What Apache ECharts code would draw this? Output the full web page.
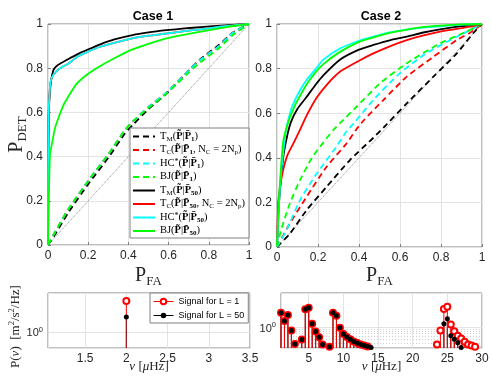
<!DOCTYPE html>
<html lang="en">
<head>
<meta charset="UTF-8">
<title>ROC curves</title>
<script src="https://cdn.jsdelivr.net/npm/echarts@6/dist/echarts.min.js"></script>
<style>html,body{margin:0;padding:0;background:#fff;}</style>
</head>
<body>
<div id="box" style="width:491px;height:382px;"></div>
<script>
// ---- Case 1 ROC curves (x = P_FA, y = P_DET) ----
var c1TmDashX = [0, 0.03, 0.1, 0.2, 0.3, 0.383, 0.424, 0.5, 0.59, 0.7, 0.756, 0.85, 0.92, 1];
var c1TmDashY = [0, 0.04, 0.145, 0.275, 0.395, 0.505, 0.545, 0.615, 0.685, 0.79, 0.84, 0.905, 0.962, 1];
var c1TcDashX = [0, 0.03, 0.1, 0.2, 0.3, 0.383, 0.424, 0.5, 0.59, 0.7, 0.756, 0.85, 0.92, 1];
var c1TcDashY = [0, 0.05, 0.16, 0.29, 0.41, 0.52, 0.56, 0.625, 0.69, 0.79, 0.837, 0.9, 0.96, 1];
var c1HcDashX = [0, 0.03, 0.1, 0.2, 0.3, 0.383, 0.424, 0.5, 0.59, 0.7, 0.756, 0.85, 0.92, 1];
var c1HcDashY = [0, 0.05, 0.16, 0.29, 0.41, 0.52, 0.56, 0.625, 0.69, 0.79, 0.837, 0.9, 0.96, 1];
var c1BjDashX = [0, 0.03, 0.1, 0.2, 0.3, 0.383, 0.424, 0.5, 0.59, 0.7, 0.756, 0.85, 0.92, 1];
var c1BjDashY = [0, 0.05, 0.16, 0.29, 0.41, 0.52, 0.56, 0.62, 0.685, 0.78, 0.825, 0.89, 0.95, 1];
var c1TmSolidX = [0, 0.003, 0.01, 0.026, 0.05, 0.093, 0.15, 0.2, 0.26, 0.33, 0.42, 0.5, 0.59, 0.68, 0.76, 0.88, 1];
var c1TmSolidY = [0, 0.55, 0.7, 0.79, 0.815, 0.837, 0.865, 0.885, 0.908, 0.93, 0.95, 0.962, 0.972, 0.98, 0.986, 0.994, 1];
var c1TcSolidX = [0, 0.002, 0.01, 0.02, 0.04, 0.07, 0.1, 0.143, 0.2, 0.26, 0.33, 0.42, 0.5, 0.59, 0.68, 0.76, 0.88, 1];
var c1TcSolidY = [0, 0.55, 0.72, 0.76, 0.785, 0.805, 0.82, 0.85, 0.875, 0.897, 0.915, 0.935, 0.947, 0.957, 0.968, 0.976, 0.99, 1];
var c1HcSolidX = [0, 0.002, 0.01, 0.02, 0.04, 0.07, 0.1, 0.143, 0.2, 0.26, 0.33, 0.42, 0.5, 0.59, 0.68, 0.76, 0.88, 1];
var c1HcSolidY = [0, 0.55, 0.72, 0.76, 0.785, 0.805, 0.82, 0.85, 0.875, 0.897, 0.915, 0.935, 0.947, 0.957, 0.968, 0.976, 0.99, 1];
var c1BjSolidX = [0, 0.005, 0.01, 0.02, 0.035, 0.05, 0.075, 0.1, 0.143, 0.2, 0.26, 0.33, 0.42, 0.5, 0.59, 0.68, 0.76, 0.88, 1];
var c1BjSolidY = [0, 0.25, 0.41, 0.46, 0.53, 0.57, 0.63, 0.67, 0.73, 0.775, 0.81, 0.845, 0.885, 0.91, 0.935, 0.952, 0.965, 0.985, 1];

// ---- Case 2 ROC curves ----
var c2TmDashX = [0, 0.063, 0.145, 0.242, 0.356, 0.47, 0.535, 0.633, 0.763, 0.877, 0.958, 1];
var c2TmDashY = [0, 0.06, 0.166, 0.27, 0.39, 0.49, 0.55, 0.644, 0.764, 0.868, 0.96, 1];
var c2TcDashX = [0, 0.063, 0.145, 0.242, 0.34, 0.389, 0.42, 0.52, 0.633, 0.763, 0.877, 0.94, 1];
var c2TcDashY = [0, 0.106, 0.226, 0.36, 0.465, 0.53, 0.565, 0.66, 0.764, 0.853, 0.928, 0.96, 1];
var c2HcDashX = [0, 0.047, 0.112, 0.194, 0.29, 0.34, 0.38, 0.47, 0.6, 0.73, 0.877, 1];
var c2HcDashY = [0, 0.076, 0.21, 0.33, 0.45, 0.52, 0.56, 0.66, 0.78, 0.87, 0.943, 1];
var c2BjDashX = [0, 0.02, 0.063, 0.112, 0.169, 0.21, 0.275, 0.307, 0.389, 0.502, 0.633, 0.795, 0.925, 1];
var c2BjDashY = [0, 0.076, 0.196, 0.3, 0.398, 0.45, 0.525, 0.555, 0.63, 0.734, 0.824, 0.913, 0.966, 1];
var c2TmSolidX = [0, 0.01, 0.03, 0.05, 0.068, 0.1, 0.145, 0.19, 0.226, 0.307, 0.4, 0.47, 0.55, 0.633, 0.72, 0.795, 0.9, 1];
var c2TmSolidY = [0, 0.2, 0.4, 0.5, 0.56, 0.62, 0.674, 0.73, 0.77, 0.84, 0.885, 0.906, 0.927, 0.943, 0.963, 0.976, 0.99, 1];
var c2TcSolidX = [0, 0.006, 0.015, 0.03, 0.05, 0.08, 0.112, 0.145, 0.194, 0.25, 0.307, 0.4, 0.47, 0.55, 0.633, 0.72, 0.795, 0.9, 0.958, 1];
var c2TcSolidY = [0, 0.196, 0.27, 0.345, 0.41, 0.465, 0.525, 0.59, 0.67, 0.735, 0.786, 0.835, 0.868, 0.9, 0.928, 0.95, 0.966, 0.982, 0.99, 1];
var c2HcSolidX = [0, 0.01, 0.02, 0.035, 0.047, 0.07, 0.088, 0.12, 0.145, 0.19, 0.226, 0.307, 0.4, 0.47, 0.55, 0.633, 0.72, 0.795, 0.9, 1];
var c2HcSolidY = [0, 0.2, 0.33, 0.46, 0.54, 0.62, 0.66, 0.715, 0.75, 0.8, 0.84, 0.89, 0.925, 0.943, 0.962, 0.975, 0.985, 0.99, 0.997, 1];
var c2BjSolidX = [0, 0.01, 0.03, 0.055, 0.09, 0.12, 0.145, 0.19, 0.226, 0.307, 0.4, 0.47, 0.55, 0.633, 0.72, 0.8, 0.9, 1];
var c2BjSolidY = [0, 0.22, 0.47, 0.56, 0.64, 0.69, 0.73, 0.785, 0.82, 0.875, 0.92, 0.94, 0.96, 0.975, 0.987, 0.993, 0.998, 1];

var diagX = [0, 1];
var diagY = [0, 1];

// ---- signal spectra, P(nu) on a log scale ----
var sigLeftX = [2];
var sigLeftL1 = [5.96];
var sigLeftL50 = [2.37];

var sigRightX1 = [1, 1.5, 2, 2.5, 3, 4, 4.5, 5, 5.5, 6, 6.5, 7, 8, 8.5, 9, 9.5, 10, 10.5, 11, 11.5, 12, 12.5, 13, 13.5,
  23.5, 24, 24.5, 25, 25.5, 26, 26.5, 27, 27.5, 28, 28.5, 29];
var sigRightL1 = [2.32, 1.44, 2.03, 0.84, 0.39, 0.5, 2.82, 3.09, 1.23, 0.79, 0.57, 0.38, 0.33, 2.32, 1.95, 0.98, 0.69, 0.58, 0.51, 0.45, 0.41, 0.376, 0.355, 0.335,
  0.376, 0.84, 2.87, 3.27, 1.19, 0.81, 0.62, 0.53, 0.44, 0.38, 0.355, 0.33];
var sigRightX50 = [1, 1.5, 2, 2.5, 3, 4, 4.5, 5, 5.5, 6, 6.5, 7, 8, 8.5, 9, 9.5, 10, 10.5, 11, 11.5, 12, 12.5, 13, 13.5, 14,
  24.5, 25, 25.5, 26, 26.5, 27];
var sigRightL50 = [2.32, 1.44, 2.03, 0.84, 0.39, 0.5, 2.82, 3.09, 1.23, 0.79, 0.57, 0.38, 0.33, 2.32, 1.95, 0.98, 0.69, 0.58, 0.51, 0.45, 0.41, 0.376, 0.355, 0.335, 0.32,
  1.23, 1.64, 0.62, 0.51, 0.42, 0.32];

// minor log grid lines visible below 10^0 in the right spectrum
var rightMinorTicks = [0.4, 0.5, 0.6, 0.7, 0.8, 0.9];

var leftLogMin = 0.398, leftLogMax = 9.44;
var rightLogMin = 0.309, rightLogMax = 7.2;

var sans = 'Liberation Sans';
var serif = 'Liberation Serif';
var ink = '#262626';
var gridGray = '#e3e3e3';
var boxGray = '#808080';

function zip(xs, ys) {
  return xs.map(function (x, i) { return [x, ys[i]]; });
}

// rich text styles for LaTeX-like labels
var richLegend = {
  n: { fontFamily: serif, fontSize: 10.5, color: '#000', lineHeight: 12, verticalAlign: 'top' },
  b: { fontFamily: serif, fontSize: 10.5, fontWeight: 'bold', color: '#000', lineHeight: 12, verticalAlign: 'top' },
  s: { fontFamily: serif, fontSize: 7, color: '#000', lineHeight: 8, padding: [6.5, 0, 0, 0], verticalAlign: 'bottom' },
  bs: { fontFamily: serif, fontSize: 7, fontWeight: 'bold', color: '#000', lineHeight: 8, padding: [6.5, 0, 0, 0], verticalAlign: 'bottom' },
  u: { fontFamily: serif, fontSize: 8, color: '#000', lineHeight: 8, verticalAlign: 'top' }
};
var richBig = {
  p: { fontFamily: serif, fontSize: 20, color: ink, lineHeight: 22, verticalAlign: 'top' },
  s: { fontFamily: serif, fontSize: 13, color: ink, lineHeight: 14, padding: [10, 0, 0, 0], verticalAlign: 'bottom' }
};
var richUnit = {
  n: { fontFamily: serif, fontSize: 13, color: ink, lineHeight: 15, verticalAlign: 'bottom' },
  i: { fontFamily: serif, fontSize: 13, fontStyle: 'italic', color: ink, lineHeight: 15, verticalAlign: 'bottom' },
  u: { fontFamily: serif, fontSize: 8.5, color: ink, lineHeight: 9, verticalAlign: 'top' }
};
var richTen = {
  a: { fontFamily: sans, fontSize: 11, color: ink, lineHeight: 13, verticalAlign: 'bottom' },
  u: { fontFamily: sans, fontSize: 7.5, color: ink, lineHeight: 8, verticalAlign: 'top' }
};

var legendText = {
  TM1: '{n|T}{s|M}{n|(}{b|P\u0303}{n||}{b|P\u0304}{bs|1}{n|)}',
  TC1: '{n|T}{s|C}{n|(}{b|P\u0303}{n||}{b|P\u0304}{bs|1}{n|, N}{s|C}{n| = 2N}{s|p}{n|)}',
  HC1: '{n|HC}{u|*}{n|(}{b|P\u0303}{n||}{b|P\u0304}{bs|1}{n|)}',
  BJ1: '{n|BJ(}{b|P\u0303}{n||}{b|P\u0304}{bs|1}{n|)}',
  TM50: '{n|T}{s|M}{n|(}{b|P\u0303}{n||}{b|P\u0304}{bs|50}{n|)}',
  TC50: '{n|T}{s|C}{n|(}{b|P\u0303}{n||}{b|P\u0304}{bs|50}{n|, N}{s|C}{n| = 2N}{s|p}{n|)}',
  HC50: '{n|HC}{u|*}{n|(}{b|P\u0303}{n||}{b|P\u0304}{bs|50}{n|)}',
  BJ50: '{n|BJ(}{b|P\u0303}{n||}{b|P\u0304}{bs|50}{n|)}'
};

function rocLine(name, idx, xs, ys, color, dashed) {
  return {
    type: 'line', name: name, xAxisIndex: idx, yAxisIndex: idx,
    data: zip(xs, ys), symbol: 'none', smooth: 0.2, silent: true,
    lineStyle: { color: color, width: 1.8, type: dashed ? [6, 4] : 'solid' },
    itemStyle: { color: color }, z: 3
  };
}

function stems(idx, xs, ys, color, base) {
  return {
    type: 'custom', xAxisIndex: idx, yAxisIndex: idx, silent: true, z: 3,
    data: zip(xs, ys),
    renderItem: function (params, api) {
      var top = api.coord([api.value(0), api.value(1)]);
      var bot = api.coord([api.value(0), base]);
      return { type: 'line', shape: { x1: top[0], y1: top[1], x2: bot[0], y2: bot[1] }, style: { stroke: color, lineWidth: 1 } };
    }
  };
}

function markers(name, idx, xs, ys, color, empty) {
  return {
    type: 'line', name: name, xAxisIndex: idx, yAxisIndex: idx, data: zip(xs, ys),
    symbol: empty ? 'emptyCircle' : 'circle', symbolSize: empty ? 6 : 5, showAllSymbol: true, silent: true,
    lineStyle: { width: 0, opacity: 0, color: color },
    itemStyle: { color: color, borderWidth: 1 }, z: 4
  };
}

function rocAxis(idx, isX) {
  var ax = {
    gridIndex: idx, type: 'value', min: 0, max: 1, interval: 0.2,
    axisLine: { show: false, onZero: false },
    axisTick: { show: true, inside: true, length: 3, lineStyle: { color: boxGray } },
    axisLabel: { color: ink, fontFamily: sans, fontSize: 12, margin: 5 },
    splitLine: { show: true, lineStyle: { color: gridGray, width: 1 } },
    nameMoveOverlap: false
  };
  if (isX) {
    ax.name = '{p|P}{s|FA}';
    ax.nameLocation = 'middle';
    ax.nameGap = idx === 0 ? 21 : 19;
    ax.nameTextStyle = { rich: richBig };
  } else if (idx === 0) {
    ax.name = '{p|P}{s|DET}';
    ax.nameLocation = 'middle';
    ax.nameGap = 19;
    ax.nameTextStyle = { rich: richBig };
  }
  return ax;
}

var chart = echarts.init(document.getElementById('box'));

var series = [
  rocLine('diag1', 0, diagX, diagY, '#8c8c8c', false),
  rocLine('TM1', 0, c1TmDashX, c1TmDashY, '#000000', true),
  rocLine('TC1', 0, c1TcDashX, c1TcDashY, '#ff0000', true),
  rocLine('HC1', 0, c1HcDashX, c1HcDashY, '#00ffff', true),
  rocLine('BJ1', 0, c1BjDashX, c1BjDashY, '#00ff00', true),
  rocLine('TM50', 0, c1TmSolidX, c1TmSolidY, '#000000', false),
  rocLine('TC50', 0, c1TcSolidX, c1TcSolidY, '#ff0000', false),
  rocLine('HC50', 0, c1HcSolidX, c1HcSolidY, '#00ffff', false),
  rocLine('BJ50', 0, c1BjSolidX, c1BjSolidY, '#00ff00', false),
  rocLine('diag2', 1, diagX, diagY, '#8c8c8c', false),
  rocLine('c2TM1', 1, c2TmDashX, c2TmDashY, '#000000', true),
  rocLine('c2TC1', 1, c2TcDashX, c2TcDashY, '#ff0000', true),
  rocLine('c2HC1', 1, c2HcDashX, c2HcDashY, '#00ffff', true),
  rocLine('c2BJ1', 1, c2BjDashX, c2BjDashY, '#00ff00', true),
  rocLine('c2TM50', 1, c2TmSolidX, c2TmSolidY, '#000000', false),
  rocLine('c2TC50', 1, c2TcSolidX, c2TcSolidY, '#ff0000', false),
  rocLine('c2HC50', 1, c2HcSolidX, c2HcSolidY, '#00ffff', false),
  rocLine('c2BJ50', 1, c2BjSolidX, c2BjSolidY, '#00ff00', false),
  stems(2, sigLeftX, sigLeftL1, '#ff0000', leftLogMin),
  stems(2, sigLeftX, sigLeftL50, '#8b1a1a', leftLogMin),
  markers('Signal for L = 1', 2, sigLeftX, sigLeftL1, '#ff0000', true),
  markers('Signal for L = 50', 2, sigLeftX, sigLeftL50, '#000000', false),
  stems(3, sigRightX50, sigRightL50, '#000000', rightLogMin),
  stems(3, sigRightX1, sigRightL1, '#ff0000', rightLogMin),
  markers('rightL1', 3, sigRightX1, sigRightL1, '#ff0000', true),
  markers('rightL50', 3, sigRightX50, sigRightL50, '#000000', false)
];
// dotted diagonals
series[0].lineStyle.type = 'dotted'; series[0].lineStyle.width = 1; series[0].z = 2;
series[9].lineStyle.type = 'dotted'; series[9].lineStyle.width = 1; series[9].z = 2;
// minor grid of the right log axis
series[22].markLine = {
  silent: true, symbol: 'none', label: { show: false }, z: 1,
  lineStyle: { color: '#cfcfcf', type: [1, 2], width: 1 },
  data: rightMinorTicks.map(function (v) { return { yAxis: v }; })
};

var unitName = '{i|\u03bd} {n|[}{i|\u03bc}{n|Hz]}';

var option = {
  animation: false,
  backgroundColor: '#fff',
  title: [
    { text: 'Case 1', left: 148, top: 5, textAlign: 'center', textStyle: { fontFamily: sans, fontSize: 12.5, fontWeight: 'bold', color: '#000' } },
    { text: 'Case 2', left: 376, top: 5, textAlign: 'center', textStyle: { fontFamily: sans, fontSize: 12.5, fontWeight: 'bold', color: '#000' } }
  ],
  grid: [
    { left: 48, top: 24, width: 201, height: 221, show: true, borderColor: boxGray, borderWidth: 1, containLabel: false, outerBoundsMode: 'none' },
    { left: 277, top: 24, width: 205, height: 223, show: true, borderColor: boxGray, borderWidth: 1, containLabel: false, outerBoundsMode: 'none' },
    { left: 48, top: 293, width: 202, height: 55, show: true, borderColor: boxGray, borderWidth: 1, containLabel: false, outerBoundsMode: 'none' },
    { left: 281, top: 293, width: 201, height: 55, show: true, borderColor: boxGray, borderWidth: 1, containLabel: false, outerBoundsMode: 'none' }
  ],
  legend: [
    {
      data: ['TM1', 'TC1', 'HC1', 'BJ1', 'TM50', 'TC50', 'HC50', 'BJ50'],
      orient: 'vertical', left: 130, top: 128, itemGap: 0, itemWidth: 22, itemHeight: 10,
      padding: [1, 4, 1, 2], backgroundColor: '#fff', borderColor: boxGray, borderWidth: 1,
      selectedMode: false, itemStyle: { opacity: 0 },
      formatter: function (name) { return legendText[name]; },
      textStyle: { rich: richLegend, padding: [0, 0, 0, 0] }
    },
    {
      data: ['Signal for L = 1', 'Signal for L = 50'],
      orient: 'vertical', left: 150, top: 293, itemGap: 5, itemWidth: 20, itemHeight: 7,
      padding: [4, 4, 3, 3], backgroundColor: '#fff', borderColor: boxGray, borderWidth: 1,
      selectedMode: false, lineStyle: { width: 1, opacity: 1 },
      textStyle: { fontFamily: sans, fontSize: 9, color: '#000' }
    }
  ],
  xAxis: [
    rocAxis(0, true),
    rocAxis(1, true),
    {
      gridIndex: 2, type: 'value', min: 1.05, max: 3.5,
      axisLine: { show: false, onZero: false }, axisTick: { show: false },
      axisLabel: { color: ink, fontFamily: sans, fontSize: 12, margin: 5,
        formatter: function (v) { return Math.abs(v * 2 - Math.round(v * 2)) < 1e-6 ? String(v) : ''; } },
      splitLine: { show: true, lineStyle: { color: gridGray } },
      name: unitName, nameLocation: 'middle', nameGap: 10, nameMoveOverlap: false,
      nameTextStyle: { rich: richUnit }
    },
    {
      gridIndex: 3, type: 'value', min: 1, max: 30,
      axisLine: { show: false, onZero: false }, axisTick: { show: false },
      axisLabel: { color: ink, fontFamily: sans, fontSize: 12, margin: 5,
        formatter: function (v) { return v % 5 === 0 ? String(v) : ''; } },
      splitLine: { show: true, lineStyle: { color: gridGray } },
      name: unitName, nameLocation: 'middle', nameGap: 10, nameMoveOverlap: false,
      nameTextStyle: { rich: richUnit }
    }
  ],
  yAxis: [
    rocAxis(0, false),
    rocAxis(1, false),
    {
      gridIndex: 2, type: 'log', logBase: 10, min: leftLogMin, max: leftLogMax,
      axisLine: { show: false }, axisTick: { show: false },
      axisLabel: { margin: 5, rich: richTen,
        formatter: function (v) { return Math.abs(v - 1) < 1e-6 ? '{a|10}{u|0}' : ''; } },
      splitLine: { show: true, lineStyle: { color: gridGray } },
      name: '{n|P(}{i|\u03bd}{n|)  [m}{u|2}{n|/s}{u|2}{n|/Hz]}', nameLocation: 'middle', nameGap: 26,
      nameMoveOverlap: false,
      nameTextStyle: { rich: richUnit, padding: [0, 12, 0, 0] }
    },
    {
      gridIndex: 3, type: 'log', logBase: 10, min: rightLogMin, max: rightLogMax,
      axisLine: { show: false }, axisTick: { show: false },
      axisLabel: { margin: 5, rich: richTen,
        formatter: function (v) { return Math.abs(v - 1) < 1e-6 ? '{a|10}{u|0}' : ''; } },
      splitLine: { show: true, lineStyle: { color: gridGray } }
    }
  ],
  series: series
};

chart.setOption(option);
</script>
</body>
</html>
